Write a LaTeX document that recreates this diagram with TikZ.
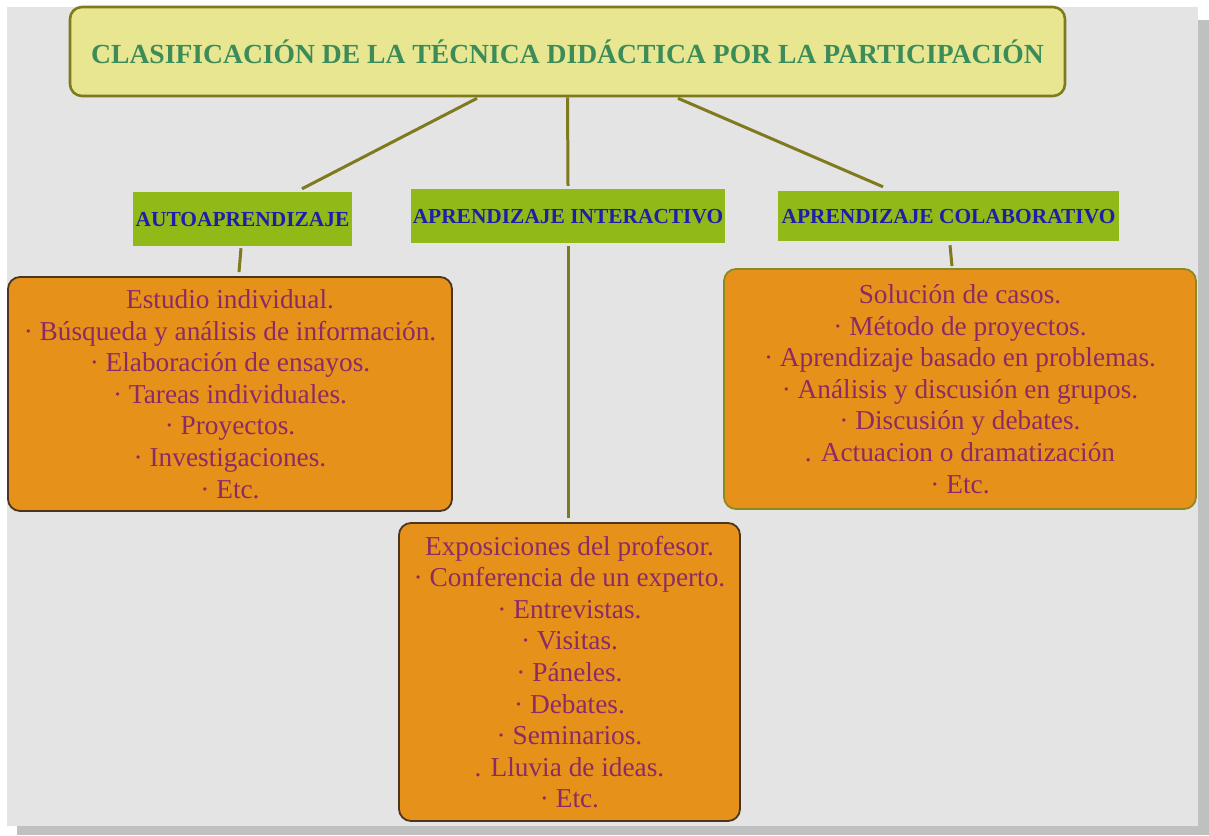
\documentclass[tikz,border=0pt]{standalone}
\usepackage{fontspec}
\setmainfont{Liberation Serif}
\definecolor{panelgray}{HTML}{E4E4E4}
\definecolor{shadowgray}{HTML}{C0C0C0}
\definecolor{titlefill}{HTML}{E8E690}
\definecolor{olive}{HTML}{7F7A1E}
\definecolor{titletext}{HTML}{3C8C5A}
\definecolor{labelfill}{HTML}{91BA18}
\definecolor{labeltext}{HTML}{1E1EAA}
\definecolor{boxfill}{HTML}{E69119}
\definecolor{boxtext}{HTML}{8C2A66}
\definecolor{boxborder}{HTML}{4A3520}
\definecolor{boxolive}{HTML}{8A8A22}
\tikzset{
  titlebox/.style={draw=olive, line width=2.6pt, fill=titlefill, rounded corners=12pt,
    minimum width=995pt, minimum height=89pt, inner sep=0pt,
    text=titletext, font=\fontsize{27.6}{30}\selectfont\bfseries},
  labelbox/.style={fill=labelfill, inner sep=0pt, text height=14pt, text depth=0pt,
    text=labeltext, font=\fontsize{21.4}{24}\selectfont\bfseries},
  itembox/.style={draw=boxborder, line width=1.8pt, fill=boxfill, rounded corners=12pt,
    inner sep=0pt, align=center, text=boxtext,
    font=\fontsize{27.3}{31.6}\selectfont},
  link/.style={draw=olive, line width=3pt}
}
\begin{document}
\begin{tikzpicture}[x=1pt, y=-1pt]
\useasboundingbox (0,0) rectangle (1209,835);
\fill[white] (0,0) rectangle (1209,835);
\fill[shadowgray] (17,20) rectangle (1209,835);
\fill[panelgray] (7,7) rectangle (1198,826);

\node[titlebox] (title) at (567.5,51.5) {CLASIFICACIÓN DE LA TÉCNICA DIDÁCTICA POR LA PARTICIPACIÓN};

\node[labelbox, minimum width=219pt, minimum height=54pt] (auto) at (242.5,219) {AUTOAPRENDIZAJE};
\node[labelbox, minimum width=314pt, minimum height=54pt] (inter) at (568,216) {APRENDIZAJE INTERACTIVO};
\node[labelbox, minimum width=341pt, minimum height=50pt] (colab) at (948.5,216) {APRENDIZAJE COLABORATIVO};

\node[itembox, minimum width=444pt, minimum height=234pt] (left) at (230,394) {Estudio individual.\\
· Búsqueda y análisis de información.\\
· Elaboración de ensayos.\\
· Tareas individuales.\\
· Proyectos.\\
· Investigaciones.\\
· Etc.};

\node[itembox, minimum width=341pt, minimum height=298pt] (mid) at (569.5,672) {Exposiciones del profesor.\\
· Conferencia de un experto.\\
· Entrevistas.\\
· Visitas.\\
· Páneles.\\
· Debates.\\
· Seminarios.\\
. Lluvia de ideas.\\
· Etc.};

\node[itembox, draw=boxolive, minimum width=472pt, minimum height=240pt] (right) at (960,389) {Solución de casos.\\
· Método de proyectos.\\
· Aprendizaje basado en problemas.\\
· Análisis y discusión en grupos.\\
· Discusión y debates.\\
. Actuacion o dramatización\\
· Etc.};

\draw[link] ([xshift=-90.5pt,yshift=-1pt]title.south) -- ([xshift=59.5pt,yshift=3pt]auto.north);
\draw[link] (title.south) -- ([yshift=3pt]inter.north);
\draw[link] ([xshift=110.5pt,yshift=-1pt]title.south) -- ([xshift=-65.5pt,yshift=4pt]colab.north);
\draw[link] ([xshift=-1.5pt,yshift=-2pt]auto.south) -- ([xshift=9pt,yshift=4pt]left.north);
\draw[link] ([yshift=-3pt]inter.south) -- ([xshift=-1.5pt,yshift=4pt]mid.north);
\draw[link] ([xshift=1.5pt,yshift=-4pt]colab.south) -- ([xshift=-8pt,yshift=2pt]right.north);
\end{tikzpicture}
\end{document}
